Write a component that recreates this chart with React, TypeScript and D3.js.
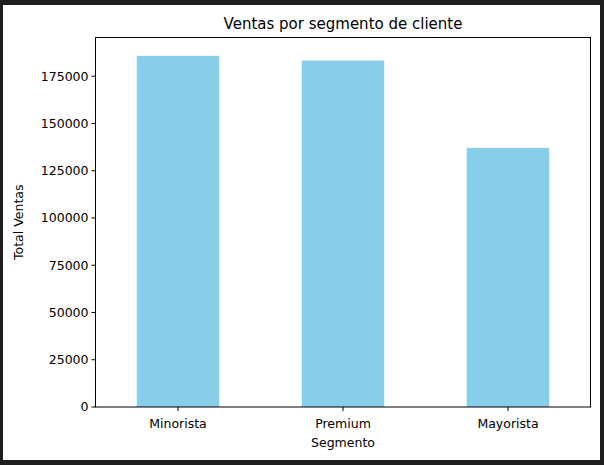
import * as d3 from "d3";

const segments = ["Minorista", "Premium", "Mayorista"];
const sales = [185800, 183300, 137100];
const yTicks = [0, 25000, 50000, 75000, 100000, 125000, 150000, 175000];

const W = 604;
const H = 465;
const left = 95.5;
const right = 590.5;
const top = 37.5;
const bottom = 407;

export default function App() {
  const x = d3.scaleLinear().domain([-0.5, segments.length - 0.5]).range([left, right]);
  const y = d3.scaleLinear().domain([0, 195500]).range([bottom, top]);
  const font = "DejaVu Sans";

  return (
    <svg width={W} height={H} style={{ position: "absolute", left: 0, top: 0, display: "block" }}>
      <rect width={W} height={H} fill="#1e1e1e" />
      <rect x={3} y={5} width={597} height={455} fill="#fff" />
      {sales.map((v, i) => (
        <rect
          key={segments[i]}
          x={x(i - 0.25)}
          y={y(v)}
          width={x(i + 0.25) - x(i - 0.25)}
          height={y(0) - y(v)}
          fill="#87ceeb"
        />
      ))}
      <rect x={left} y={top} width={right - left} height={bottom - top} fill="none" stroke="#000" strokeWidth={1} />
      {yTicks.map((t) => (
        <g key={t} transform={`translate(${left},${y(t)})`}>
          <line x1={-4} x2={0} stroke="#000" />
          <text x={-7} dy="0.35em" textAnchor="end" fontSize={12.5} fontFamily={font}>
            {t}
          </text>
        </g>
      ))}
      {segments.map((s, i) => (
        <g key={s} transform={`translate(${x(i)},${bottom})`}>
          <line y2={4} stroke="#000" />
          <text y={21} textAnchor="middle" fontSize={12.5} fontFamily={font}>
            {s}
          </text>
        </g>
      ))}
      <text x={(left + right) / 2} y={447} textAnchor="middle" fontSize={12.5} fontFamily={font}>
        Segmento
      </text>
      <text
        transform={`translate(23,${(top + bottom) / 2}) rotate(-90)`}
        textAnchor="middle"
        fontSize={12.5}
        fontFamily={font}
      >
        Total Ventas
      </text>
      <text x={(left + right) / 2} y={29} textAnchor="middle" fontSize={15} fontFamily={font}>
        Ventas por segmento de cliente
      </text>
    </svg>
  );
}
